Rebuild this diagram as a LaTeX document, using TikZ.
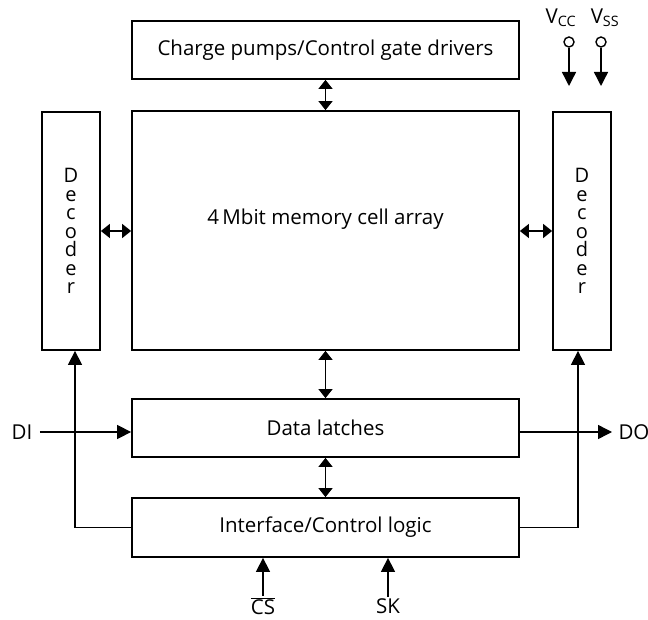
\documentclass[tikz,border=0pt]{standalone}
\usepackage{fontspec}
\setmainfont{Open Sans}
\usetikzlibrary{calc}
\usetikzlibrary{arrows.meta}
\tikzset{>={Triangle[length=14pt,width=14pt]}}
\tikzset{
  block/.style={draw, line width=1.8pt, minimum width=387pt, inner sep=0pt},
  decbox/.style={draw, line width=1.8pt, minimum width=58pt, minimum height=238pt, align=center, font=\fontsize{20}{18.5}\selectfont},
  wire/.style={line width=1.4pt},
  bus/.style={line width=1.4pt, {Triangle[length=9pt,width=14pt]}-{Triangle[length=9pt,width=14pt]}},
  pinring/.style={draw, circle, line width=1.4pt, minimum size=10pt, inner sep=0pt},
}

\begin{document}
\begin{tikzpicture}[x=1pt, y=-1pt, font=\fontsize{20.5}{24}\selectfont]
    \useasboundingbox (0,0) rectangle (648,620);

    % BLOCKS
    \node[block, minimum height=58pt] (pumps) at (325.5,50) {Charge pumps/Control gate drivers};
    \node[block, minimum height=239pt] (array) at (325.5,230.5) {};
    \node (arraytxt) at (325.5,219) {4\,Mbit memory cell array};
    \node[decbox] (decL) at (71,231) {D\\e\\c\\o\\d\\e\\r};
    \node[decbox] (decR) at (582,231) {D\\e\\c\\o\\d\\e\\r};
    \node[block, minimum height=58pt] (latch) at (325.5,428) {Data latches};
    \node[block, minimum height=59pt] (logic) at (325.5,527.5) {Interface/Control logic};

    % BUSES
    \draw[bus] (pumps) -- (array);
    \draw[bus] (array) -- (latch);
    \draw[bus] (latch) -- (logic);
    \draw[bus] (decL.east) -- (decL.east -| array.west);
    \draw[bus] (decR.west) -- (decR.west -| array.east);

    % DECODER FEEDS
    \draw[wire, ->] (logic.west) -| ($(decL.south)+(4,0)$);
    \draw[wire, ->] (logic.east) -| ($(decR.south)+(-4,0)$);

    % DATA IN / OUT
    \node (DI) at (22,432) {DI};
    \node (DO) at (634,432) {DO};
    \draw[wire, ->] ($(DI.east)+(4,0)$) -- (DI -| latch.west);
    \draw[wire, ->] (DO -| latch.east) -- ($(DO.west)+(-3,0)$);

    % CONTROL INPUTS
    \node (cs) at (263,606) {$\overline{\mbox{CS}}$};
    \node (sk) at (388,606) {SK};
    \draw[wire, ->] ($(cs.north)+(0,2)$) -- (cs |- logic.south);
    \draw[wire, ->] ($(sk.north)+(0,2)$) -- (sk |- logic.south);

    % SUPPLY PINS
    \node[pinring] (vcc) at (569,42) {};
    \node[pinring] (vss) at (601,42) {};
    \node (vcctxt) at (561,18) {V\textsubscript{CC}};
    \node (vsstxt) at (605,18) {V\textsubscript{SS}};
    \coordinate (vccend) at (569,86);
    \coordinate (vssend) at (601,86);
    \draw[wire, ->] (vcc) -- (vccend);
    \draw[wire, ->] (vss) -- (vssend);
\end{tikzpicture}
\end{document}
